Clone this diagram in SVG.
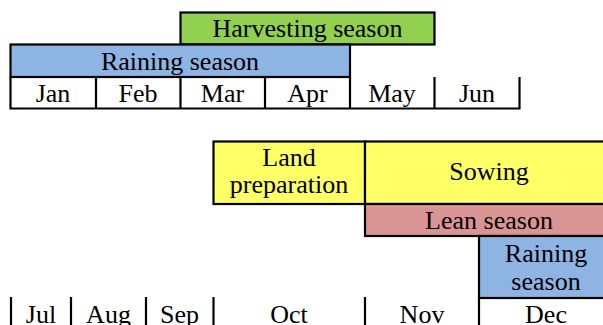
<svg xmlns="http://www.w3.org/2000/svg" width="603" height="325" viewBox="0 0 603 325">
<style>
text{font-family:"Liberation Serif","Times New Roman",serif;font-size:26px;fill:#000;text-anchor:middle}
.b{stroke:#000;stroke-width:2.2}
.ln{stroke:#000;stroke-width:2.2;fill:none}
.g{fill:#92D050}
.bl{fill:#8EB4E3}
.y{fill:#FFFF66}
.p{fill:#D99594}
</style>
<rect width="603" height="325" fill="#fff"/>
<g id="harvesting">
<rect class="g b" x="180.5" y="12.5" width="254" height="32"/>
<text x="307.5" y="37">Harvesting season</text>
</g>
<g id="raining-top">
<rect class="bl b" x="10.5" y="44.5" width="339.5" height="32.5"/>
<text x="180" y="69.5">Raining season</text>
</g>
<g id="months-top">
<path class="ln" d="M10.5 77V108.5H519.5V77M96 77V108.5M180.5 77V108.5M265 77V108.5M350 77V108.5M434.5 77V108.5"/>
<text x="53" y="101.7">Jan</text>
<text x="138" y="101.7">Feb</text>
<text x="222.5" y="101.7">Mar</text>
<text x="307.5" y="101.7">Apr</text>
<text x="392" y="101.7">May</text>
<text x="477" y="101.7">Jun</text>
</g>
<g id="land-preparation">
<rect class="y b" x="213.5" y="141.5" width="151.5" height="62.5"/>
<text x="289" y="166.3">Land</text>
<text x="289" y="193">preparation</text>
</g>
<g id="sowing">
<rect class="y b" x="365" y="141.5" width="250" height="62.5"/>
<text x="489" y="180">Sowing</text>
</g>
<g id="lean">
<rect class="p b" x="365" y="204" width="250" height="32"/>
<text x="489" y="229.3">Lean season</text>
</g>
<g id="raining-bottom">
<rect class="bl b" x="479" y="236" width="136" height="62"/>
<text x="546" y="261.7">Raining</text>
<text x="546" y="290">season</text>
</g>
<g id="months-bottom">
<path class="ln" d="M11 297V330M71 297V330M146 297V330M213.5 297V330M365 297V330M479 298V330M479 298H615"/>
<text x="41" y="322.5">Jul</text>
<text x="108.5" y="322.5">Aug</text>
<text x="179.5" y="322.5">Sep</text>
<text x="289" y="322.5">Oct</text>
<text x="422" y="322.5">Nov</text>
<text x="546" y="322.5">Dec</text>
</g>
</svg>
